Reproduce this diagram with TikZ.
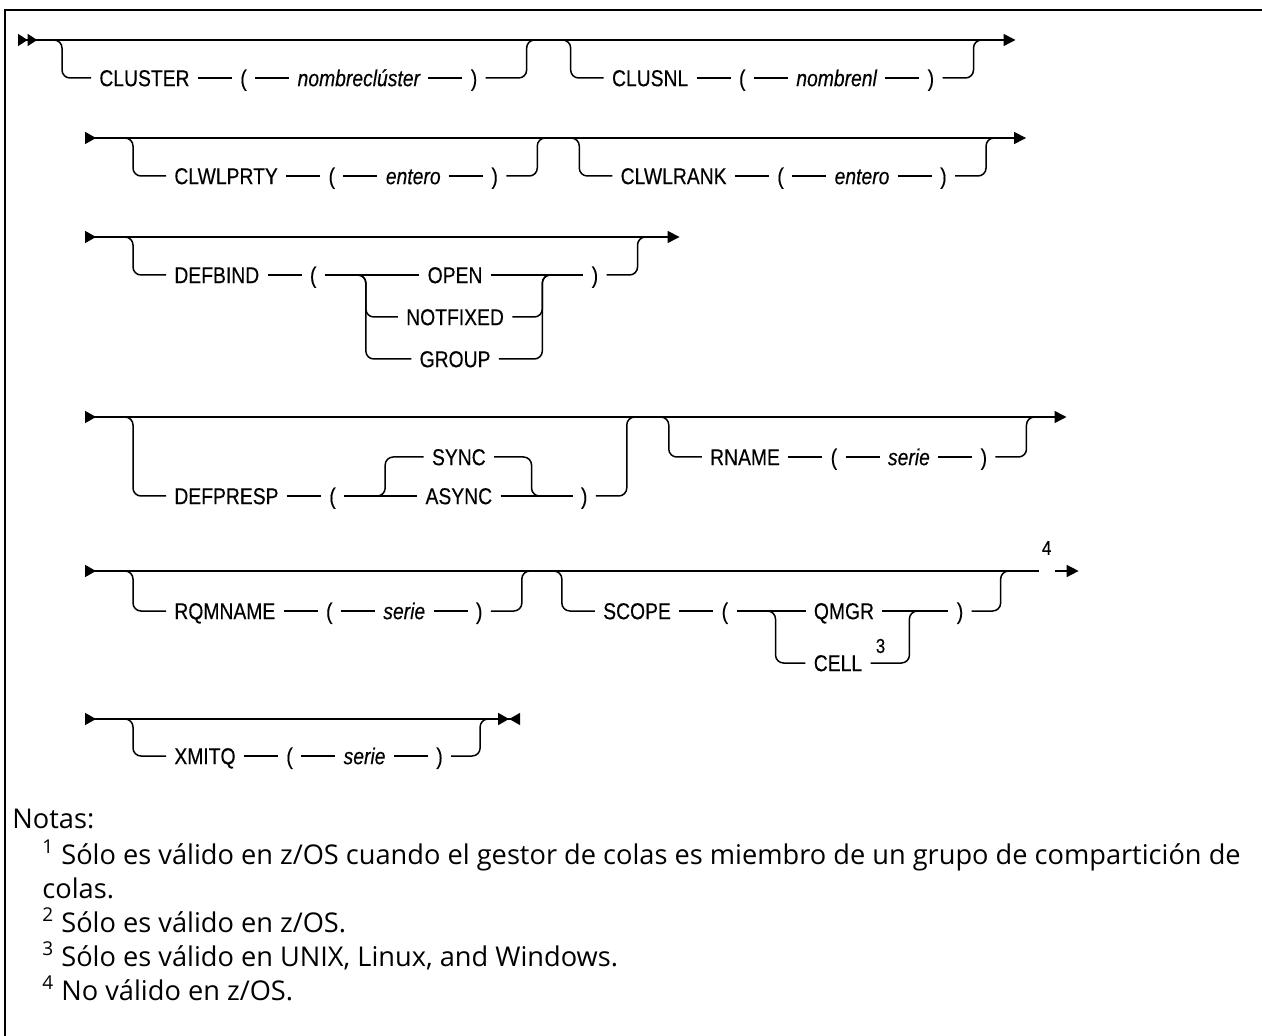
\documentclass[tikz,border=0pt]{standalone}
\usepackage{fontspec}
\setmainfont{Open Sans}
\newfontfamily\synfont{Liberation Sans}[FakeStretch=0.84,FakeBold=0.3]
\usetikzlibrary{arrows.meta,positioning,calc}

\begin{document}
\begin{tikzpicture}[x=0.5pt,y=-0.5pt,node distance=17pt,
  rail/.style={line width=0.75pt,rounded corners=4pt},
  tok/.style={font=\synfont\fontsize{11.5}{13}\selectfont,inner xsep=4pt,
              inner ysep=0pt,text height=8.2pt,text depth=0pt},
  var/.style={tok,font=\synfont\fontsize{11.5}{13}\selectfont\itshape},
  noteref/.style={font=\synfont\fontsize{10}{11}\selectfont,inner xsep=1.5pt,inner ysep=0pt},
  note/.style={font=\fontsize{13.6}{15}\selectfont,inner sep=0pt,anchor=base west},
  firstrow/.style={{Triangle[reversed,length=4.8pt,width=6pt]Triangle[reversed,length=4.8pt,width=6pt]}-{Triangle[length=6pt,width=6pt]}},
  midrow/.style={{Triangle[reversed,length=5.5pt,width=6pt]}-{Triangle[length=6pt,width=6pt]}},
  openrow/.style={{Triangle[reversed,length=5.5pt,width=6pt]}-},
  shutrow/.style={-{Triangle[length=6pt,width=6pt]}},
  lastrow/.style={{Triangle[reversed,length=5.5pt,width=6pt]}-{Triangle[length=5.5pt,width=6pt]Triangle[reversed,length=5.5pt,width=6pt]}}]

  \useasboundingbox (0,0) rectangle (1262,1036);
  \draw[line width=1pt] (5,1036) -- (5,10) -- (1262,10);

  % row 1: CLUSTER, CLUSNL
  \coordinate (m1) at (18,40);
  \coordinate (d1) at (62,78);
  \node[tok,right=14.5pt of d1] (cl) {CLUSTER};
  \node[tok,right=of cl] (cl1) {(};
  \node[var,right=of cl1] (cl2) {nombreclúster};
  \node[tok,right=of cl2] (cl3) {)};
  \coordinate[right=20.5pt of cl3] (r1);
  \coordinate (d2) at ($(r1)+(44,0)$);
  \node[tok,right=16.5pt of d2] (cn) {CLUSNL};
  \node[tok,right=of cn] (cn1) {(};
  \node[var,right=of cn1] (cn2) {nombrenl};
  \node[tok,right=of cn2] (cn3) {)};
  \coordinate[right=15.5pt of cn3] (r2);
  \coordinate (e1) at ($(r2 |- m1)+(42,0)$);
  \draw[rail,firstrow] (m1) -- (e1);
  \draw[rail] ($(d1 |- m1)+(-10,0)$) -- (d1 |- m1) -- (d1) -- (cl);
  \draw[rail] (cl3) -- (r1) -- (r1 |- m1) -- ++(10,0);
  \draw[rail] ($(d2 |- m1)+(-10,0)$) -- (d2 |- m1) -- (d2) -- (cn);
  \draw[rail] (cn3) -- (r2) -- (r2 |- m1) -- ++(10,0);

  % row 2: CLWLPRTY, CLWLRANK
  \coordinate (m2) at (85,138);
  \coordinate (d3) at (133,176);
  \node[tok,right=16.5pt of d3] (cp) {CLWLPRTY};
  \node[tok,right=of cp] (cp1) {(};
  \node[var,right=of cp1] (cp2) {entero};
  \node[tok,right=of cp2] (cp3) {)};
  \coordinate[right=15.5pt of cp3] (r3);
  \coordinate (d4) at ($(r3)+(42,0)$);
  \node[tok,right=16.5pt of d4] (ck) {CLWLRANK};
  \node[tok,right=of ck] (ck1) {(};
  \node[var,right=of ck1] (ck2) {entero};
  \node[tok,right=of ck2] (ck3) {)};
  \coordinate[right=15.5pt of ck3] (r4);
  \coordinate (e2) at ($(r4 |- m2)+(40,0)$);
  \draw[rail,midrow] (m2) -- (e2);
  \draw[rail] ($(d3 |- m2)+(-10,0)$) -- (d3 |- m2) -- (d3) -- (cp);
  \draw[rail] (cp3) -- (r3) -- (r3 |- m2) -- ++(10,0);
  \draw[rail] ($(d4 |- m2)+(-10,0)$) -- (d4 |- m2) -- (d4) -- (ck);
  \draw[rail] (ck3) -- (r4) -- (r4 |- m2) -- ++(10,0);

  % row 3: DEFBIND
  \coordinate (m3) at (85,237);
  \coordinate (d5) at (133,275);
  \node[tok,right=16.5pt of d5] (db) {DEFBIND};
  \node[tok,right=of db] (db1) {(};
  \coordinate[right=20.5pt of db1] (sp1);
  \node[tok,anchor=west] (nf) at ($(sp1)+(32,42)$) {NOTFIXED};
  \node[tok] (op) at (nf |- db) {OPEN};
  \node[tok] (gr) at ($(nf)+(0,42)$) {GROUP};
  \coordinate (jn1) at ($(nf.east |- db)+(30,0)$);
  \node[tok,right=20.5pt of jn1] (db2) {)};
  \coordinate[right=15.5pt of db2] (r5);
  \coordinate (e3) at ($(r5 |- m3)+(42,0)$);
  \draw[rail,midrow] (m3) -- (e3);
  \draw[rail] ($(d5 |- m3)+(-10,0)$) -- (d5 |- m3) -- (d5) -- (db);
  \draw[rail] ($(sp1)+(-10,0)$) -- (sp1) -- (sp1 |- nf) -- (nf);
  \draw[rail] ($(sp1)+(-10,0)$) -- (sp1) -- (sp1 |- gr) -- (gr);
  \draw[rail] (nf) -- (jn1 |- nf) -- (jn1) -- ++(10,0);
  \draw[rail] (gr) -- (jn1 |- gr) -- (jn1) -- ++(10,0);
  \draw[rail] (db2) -- (r5) -- (r5 |- m3) -- ++(10,0);

  % row 4: DEFPRESP, RNAME
  \coordinate (m4) at (85,417);
  \coordinate (d6) at (133,496);
  \node[tok,right=16.5pt of d6] (dp) {DEFPRESP};
  \node[tok,right=of dp] (dp1) {(};
  \coordinate[right=20.5pt of dp1] (sp2);
  \node[tok,anchor=west] (as) at ($(sp2)+(32,0)$) {ASYNC};
  \node[tok] (sy) at ($(as)+(0,-39)$) {SYNC};
  \coordinate (jn2) at ($(as.east)+(31,0)$);
  \node[tok,right=20.5pt of jn2] (dp2) {)};
  \coordinate[right=15.5pt of dp2] (r6);
  \coordinate (d7) at ($(r6 |- sy)+(42,0)$);
  \node[tok,right=16.5pt of d7] (rn) {RNAME};
  \node[tok,right=of rn] (rn1) {(};
  \node[var,right=of rn1] (rn2) {serie};
  \node[tok,right=of rn2] (rn3) {)};
  \coordinate[right=15.5pt of rn3] (r7);
  \coordinate (e4) at ($(r7 |- m4)+(40,0)$);
  \draw[rail,midrow] (m4) -- (e4);
  \draw[rail] ($(d6 |- m4)+(-10,0)$) -- (d6 |- m4) -- (d6) -- (dp);
  \draw[rail] ($(sp2)+(-10,0)$) -- (sp2) -- (sp2 |- sy) -- (sy);
  \draw[rail] (sy) -- (jn2 |- sy) -- (jn2) -- ++(10,0);
  \draw[rail] (dp2) -- (r6) -- (r6 |- m4) -- ++(10,0);
  \draw[rail] ($(d7 |- m4)+(-10,0)$) -- (d7 |- m4) -- (d7) -- (rn);
  \draw[rail] (rn3) -- (r7) -- (r7 |- m4) -- ++(10,0);

  % row 5: RQMNAME, SCOPE
  \coordinate (m5) at (85,571);
  \coordinate (d8) at (133,611);
  \node[tok,right=16.5pt of d8] (rq) {RQMNAME};
  \node[tok,right=of rq] (rq1) {(};
  \node[var,right=of rq1] (rq2) {serie};
  \node[tok,right=of rq2] (rq3) {)};
  \coordinate[right=15.5pt of rq3] (r8);
  \coordinate (d9) at ($(r8)+(40,0)$);
  \node[tok,right=16.5pt of d9] (sc) {SCOPE};
  \node[tok,right=of sc] (sc1) {(};
  \coordinate[right=19.5pt of sc1] (sp3);
  \node[tok,anchor=west] (qm) at ($(sp3)+(30,0)$) {QMGR};
  \node[tok] (ce) at ($(qm)+(-6,52)$) {CELL};
  \node[noteref] (ref3) at ($(ce.east)+(10,-17)$) {3};
  \coordinate (jn3) at ($(qm.east)+(27,0)$);
  \node[tok,right=19.5pt of jn3] (sc2) {)};
  \coordinate[right=14.5pt of sc2] (r9);
  \node[noteref] (ref4) at ($(r9 |- m5)+(46,-23)$) {4};
  \coordinate (e5) at ($(ref4 |- m5)+(32,0)$);
  \draw[rail,openrow] (m5) -- (ref4.west |- m5);
  \draw[rail,shutrow] (ref4.east |- m5) -- (e5);
  \draw[rail] ($(d8 |- m5)+(-10,0)$) -- (d8 |- m5) -- (d8) -- (rq);
  \draw[rail] (rq3) -- (r8) -- (r8 |- m5) -- ++(10,0);
  \draw[rail] ($(d9 |- m5)+(-10,0)$) -- (d9 |- m5) -- (d9) -- (sc);
  \draw[rail] ($(sp3)+(-10,0)$) -- (sp3) -- (sp3 |- ce) -- (ce);
  \draw[rail] (ce) -- (jn3 |- ce) -- (jn3) -- ++(10,0);
  \draw[rail] (sc2) -- (r9) -- (r9 |- m5) -- ++(10,0);

  % row 6: XMITQ
  \coordinate (m6) at (85,719);
  \coordinate (d10) at (133,756);
  \node[tok,right=16.5pt of d10] (xm) {XMITQ};
  \node[tok,right=of xm] (xm1) {(};
  \node[var,right=of xm1] (xm2) {serie};
  \node[tok,right=of xm2] (xm3) {)};
  \coordinate[right=14.5pt of xm3] (r10);
  \coordinate (e6) at ($(r10 |- m6)+(40,0)$);
  \draw[rail,lastrow] (m6) -- (e6);
  \draw[rail] ($(d10 |- m6)+(-10,0)$) -- (d10 |- m6) -- (d10) -- (xm);
  \draw[rail] (xm3) -- (r10) -- (r10 |- m6) -- ++(10,0);

  % dashes between the words of each branch
  \foreach \a/\b in {cl/cl1,cl1/cl2,cl2/cl3,cn/cn1,cn1/cn2,cn2/cn3,
      cp/cp1,cp1/cp2,cp2/cp3,ck/ck1,ck1/ck2,ck2/ck3,
      db/db1,db1/op,op/db2,dp/dp1,dp1/as,as/dp2,rn/rn1,rn1/rn2,rn2/rn3,
      rq/rq1,rq1/rq2,rq2/rq3,sc/sc1,sc1/qm,qm/sc2,xm/xm1,xm1/xm2,xm2/xm3}
    \draw[rail] (\a) -- (\b);

  % notes
  \node[note] (nota) at (12,828) {Notas:};
  \node[note] (nt1) at (42,864) {\textsuperscript{1} Sólo es válido en z/OS cuando el gestor de colas es miembro de un grupo de compartición de};
  \node[note] (nt1b) at (42,898) {colas.};
  \node[note] (nt2) at (42,932) {\textsuperscript{2} Sólo es válido en z/OS.};
  \node[note] (nt3) at (42,966) {\textsuperscript{3} Sólo es válido en UNIX, Linux, and Windows.};
  \node[note] (nt4) at (42,1000) {\textsuperscript{4} No válido en z/OS.};
\end{tikzpicture}
\end{document}
